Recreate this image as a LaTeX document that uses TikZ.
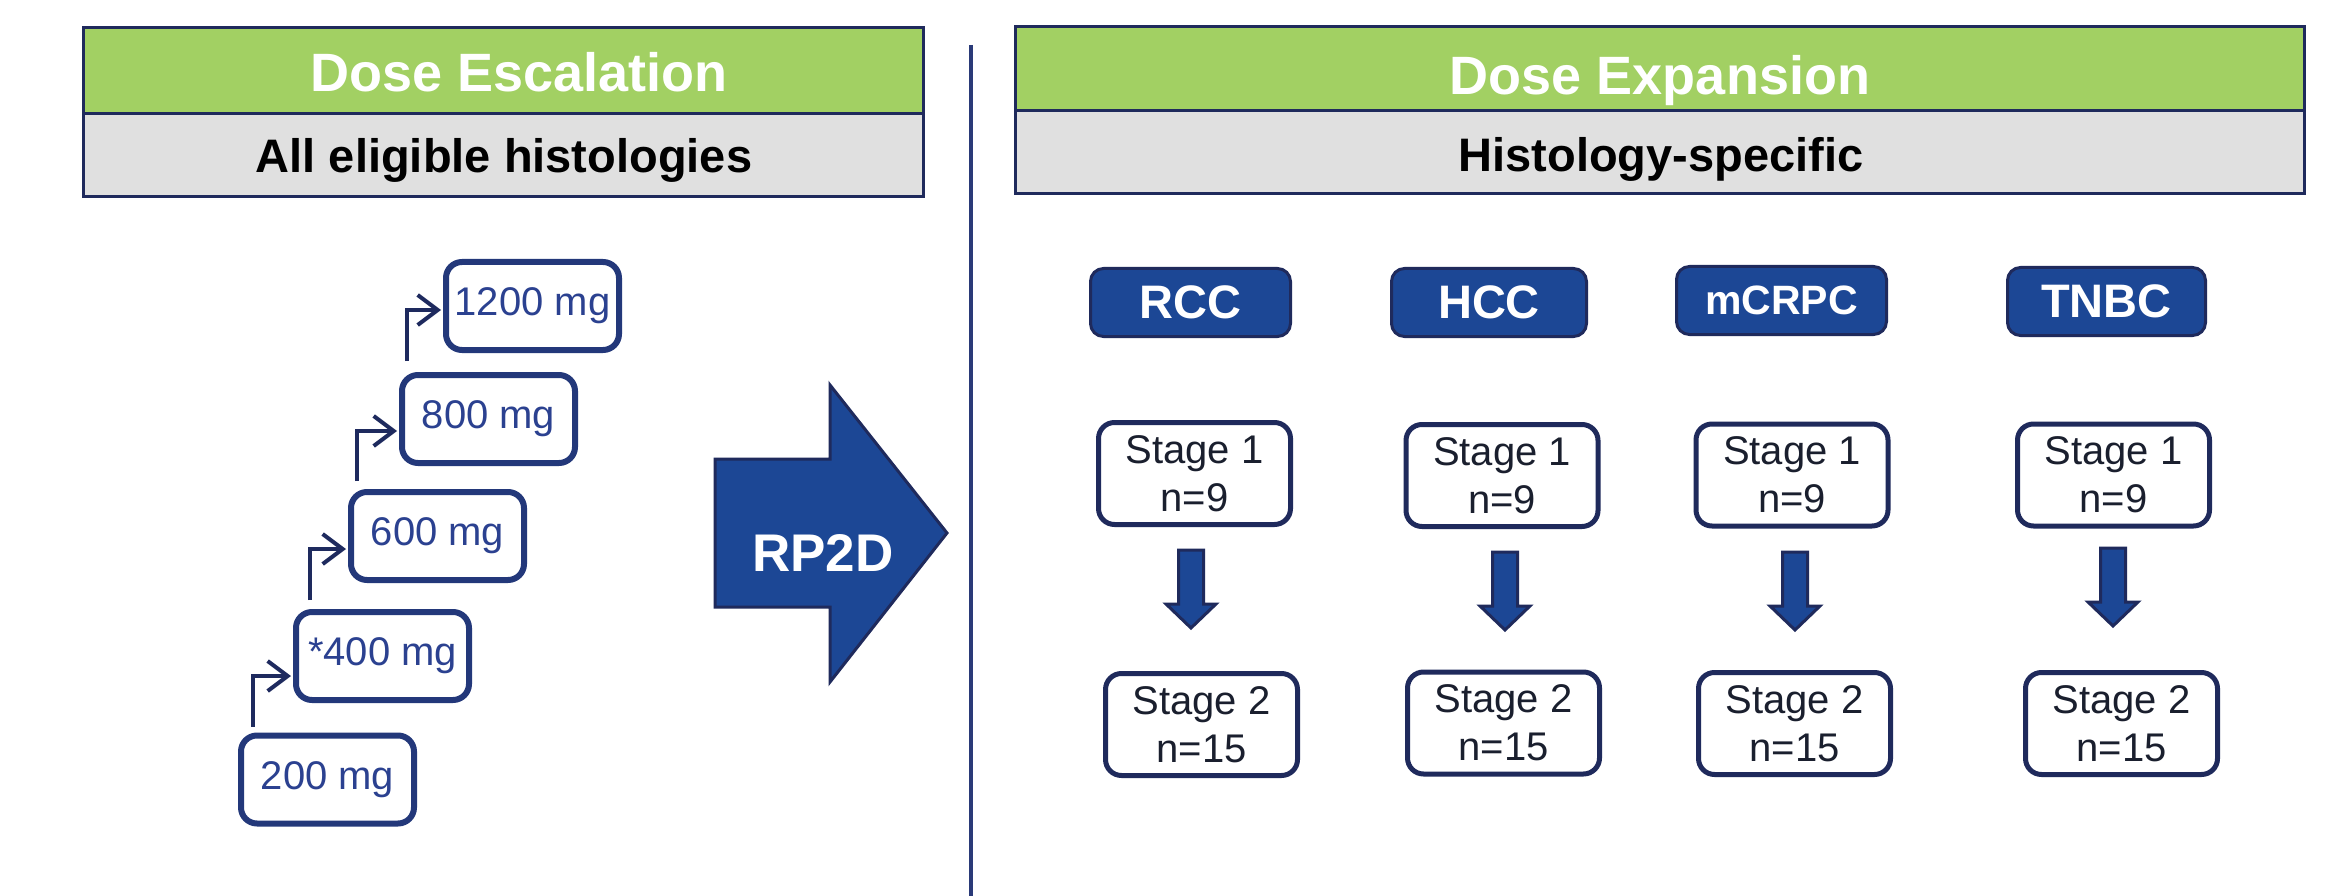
\documentclass[tikz,border=0pt]{standalone}
\usepackage{fontspec}
\setmainfont{Liberation Sans}
\usetikzlibrary{arrows.meta,calc}
\definecolor{hdrgreen}{HTML}{A2D063}
\definecolor{hdrgray}{HTML}{E0E0E0}
\definecolor{navy}{HTML}{1F2A5C}
\definecolor{histblue}{HTML}{1C4795}
\definecolor{dosenavy}{HTML}{23387A}
\definecolor{dosetext}{HTML}{2B4190}
\definecolor{connnavy}{HTML}{1E2A5E}
\definecolor{stagetext}{HTML}{1A1F2E}
\definecolor{divcol}{HTML}{2A3A78}
\begin{document}
\begin{tikzpicture}[x=1pt,y=-1pt,
 hdrg/.style={draw=navy, line width=3pt, fill=hdrgreen, inner sep=0pt, outer sep=0pt, anchor=north west},
 hdrgr/.style={draw=navy, line width=3pt, fill=hdrgray, inner sep=0pt, outer sep=0pt, anchor=north west},
 htitle/.style={text=white, font=\fontsize{54}{60}\selectfont\bfseries, anchor=base, inner sep=0pt},
 hsub/.style={text=black, font=\fontsize{47}{54}\selectfont\bfseries, anchor=base, inner sep=0pt},
 dosebox/.style={draw=dosenavy, line width=6pt, rounded corners=16pt, fill=white, minimum width=173pt, minimum height=88pt, inner sep=0pt, text=dosetext, font=\fontsize{40}{48}\selectfont},
 conn/.style={draw=connnavy, line width=4pt, -{Straight Barb[length=20pt,width=30pt,line width=4pt]}},
 histbox/.style={draw=navy, line width=3pt, fill=histblue, rounded corners=13pt, minimum height=68pt, text=white, font=\fontsize{47}{54}\selectfont\bfseries, inner sep=0pt},
 stagebox/.style={draw=navy, line width=5pt, rounded corners=16pt, fill=white, minimum width=192pt, minimum height=102pt, align=center, text=stagetext, font=\fontsize{40}{48}\selectfont, inner sep=0pt},
 bigarrow/.style={draw=navy, line width=3pt, fill=histblue, line join=miter},
 divline/.style={draw=divcol, line width=3.5pt},
 dnarrow/.pic={\path[bigarrow] (-12.5,0) -- (12.5,0) -- (12.5,54) -- (25,54) -- (0,78) -- (-25,54) -- (-12.5,54) -- cycle;}
]
\useasboundingbox (0,0) rectangle (2338,896);
\fill[white] (0,0) rectangle (2338,896);

% headers
\node[hdrg, minimum width=840pt, minimum height=86pt] (escTop) at (83,28) {};
\node[hdrgr, minimum width=840pt, minimum height=83pt] (escSub) at (83,114) {};
\node[htitle] (escTitle) at (519,92) {Dose Escalation};
\node[hsub] (escText) at (504,173) {All eligible histologies};

\node[hdrg, minimum width=1289pt, minimum height=84pt] (expTop) at (1015,27) {};
\node[hdrgr, minimum width=1289pt, minimum height=83pt] (expSub) at (1015,111) {};
\node[htitle] (expTitle) at (1660,95) {Dose Expansion};
\node[hsub] (expText) at (1661,172) {Histology-specific};

% divider
\coordinate (divTop) at (971,45);
\coordinate (divBot) at (971,896);
\draw[divline] (divTop) -- (divBot);

% dose steps
\node[dosebox] (d200) at (327.5,779.5) {200 mg};
\node[dosebox] (d400) at (382.5,656) {*400 mg};
\node[dosebox] (d600) at (437.5,536) {600 mg};
\node[dosebox] (d800) at (488.5,419) {800 mg};
\node[dosebox] (d1200) at (532.5,306) {1200 mg};

\draw[conn] ($(d200.north west)+(15,-6)$) |- ($(d400.west)+(-2,20)$);
\draw[conn] ($(d400.north west)+(17,-9)$) |- ($(d600.west)+(-2,13)$);
\draw[conn] ($(d600.north west)+(9,-8)$) |- ($(d800.west)+(-2,12)$);
\draw[conn] ($(d800.north west)+(8,-11)$) |- ($(d1200.west)+(-2,4)$);

% RP2D arrow
\path[bigarrow] (715,459) -- (830,459) -- (830,385) -- (947,533) -- (830,682) -- (830,607) -- (715,607) -- cycle;
\node[text=white, font=\fontsize{53}{60}\selectfont\bfseries, inner sep=0pt] (rp2d) at (823,553) {RP2D};

% histology boxes
\node[histbox, minimum width=200pt] (hRCC) at (1190.5,302.5) {RCC};
\node[histbox, minimum width=195pt] (hHCC) at (1489,302.5) {HCC};
\node[histbox, minimum width=210pt, font=\fontsize{41}{48}\selectfont\bfseries] (hMC) at (1781.5,300.5) {mCRPC};
\node[histbox, minimum width=198pt] (hTN) at (2106.5,301.5) {TNBC};

% stage 1
\node[stagebox] (s1RCC) at (1194.5,473.5) {Stage 1\\n=9};
\node[stagebox] (s1HCC) at (1502,475.5) {Stage 1\\n=9};
\node[stagebox] (s1MC) at (1792,475) {Stage 1\\n=9};
\node[stagebox] (s1TN) at (2113.5,475) {Stage 1\\n=9};

% stage 2
\node[stagebox] (s2RCC) at (1201.5,724.5) {Stage 2\\n=15};
\node[stagebox] (s2HCC) at (1503.5,723) {Stage 2\\n=15};
\node[stagebox] (s2MC) at (1794.5,723.5) {Stage 2\\n=15};
\node[stagebox] (s2TN) at (2121.5,723.5) {Stage 2\\n=15};

% down arrows
\pic at (1191,550) {dnarrow};
\pic at (1505,552) {dnarrow};
\pic at (1795,552) {dnarrow};
\pic at (2113,548) {dnarrow};
\end{tikzpicture}
\end{document}
